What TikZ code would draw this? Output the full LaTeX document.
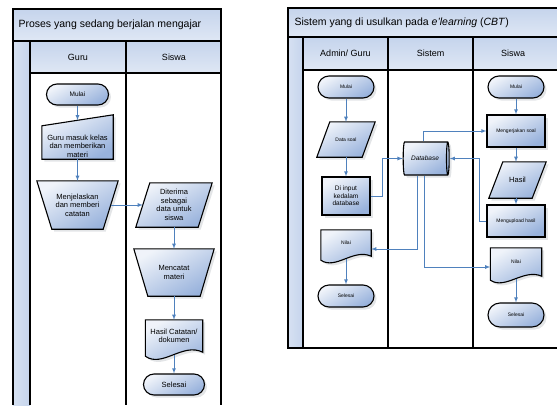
\documentclass[tikz,border=0pt]{standalone}
\usepackage{fontspec}
\setmainfont{Liberation Sans}
\usetikzlibrary{arrows, positioning, calc}
\usetikzlibrary{shapes.geometric, shapes.misc, shadows}

\definecolor{alurbiru}{RGB}{79,129,189}
\definecolor{isibiru}{RGB}{152,178,220}
\definecolor{pitabiru}{RGB}{197,212,236}

\pgfdeclarelayer{lajur}
\pgfdeclarelayer{bentuk}
\pgfsetlayers{lajur,bentuk,main}

\begin{document}
\begin{tikzpicture}[
        x=1pt, y=-1pt,
        garis/.style={line width=1.6pt},
        pita/.style={top color=pitabiru, bottom color=white!45!pitabiru},
        tepi/.style={left color=white!30!pitabiru, right color=pitabiru},
        isi/.style={draw, line width=1.1pt, top color=white!85!isibiru, bottom color=isibiru, shading angle=30,
            drop shadow={shadow xshift=2.5pt, shadow yshift=-2.5pt, fill=alurbiru!30!black!40, opacity=.3}},
        ujung/.style={rounded rectangle, isi, inner sep=1pt},
        proses/.style={rectangle, isi, inner sep=1pt, align=center},
        slot/.style={inner sep=0pt, align=center},
        alir/.style={draw=alurbiru, line width=.8pt, -latex},
        judul/.style={font=\fontsize{10.5}{12}\selectfont, anchor=west},
        kolom/.style={font=\fontsize{9}{11}\selectfont},
        besar/.style={font=\fontsize{7.5}{8.5}\selectfont},
        sedang/.style={font=\fontsize{6.5}{7.5}\selectfont},
        kecil/.style={font=\fontsize{5}{6}\selectfont}
    ]
    \useasboundingbox (0,0) rectangle (557,405);

    % lajur kiri
    \begin{pgfonlayer}{lajur}
        \fill[pita] (13,9) rectangle (221,41);
        \fill[pita] (30,41) rectangle (221,73);
        \fill[tepi] (13,41) rectangle (30,405);
        \draw[garis] (13,405) -- (13,9) -- (221,9) -- (221,405);
        \draw[garis] (13,41) -- (221,41);
        \draw[garis] (30,73) -- (221,73);
        \foreach \x in {30,126}
            \draw[garis] (\x,41) -- (\x,405);
    \end{pgfonlayer}

    \node[judul] (judulKiri) at (15,25) {Proses yang sedang berjalan mengajar};
    \node[kolom] (kolGuru) at (78,57) {Guru};
    \node[kolom] (kolSiswa) at (174,57) {Siswa};

    \node[ujung, sedang, minimum width=64pt, minimum height=21pt] (mulai1) at (77.5,94.5) {Mulai};
    \node[slot, besar, minimum width=71pt, minimum height=26pt] (masuk) at (77.5,146) {Guru masuk kelas\\dan memberikan\\materi};
    \node[slot, besar, minimum width=81pt, minimum height=48pt] (jelas) at (77.5,205) {Menjelaskan\\dan memberi\\catatan};
    \node[slot, besar, minimum width=48pt, minimum height=44pt] (terima) at (174,205) {Diterima\\sebagai\\data untuk\\siswa};
    \node[slot, besar, minimum width=80pt, minimum height=47pt] (catat) at (174,272.5) {Mencatat\\materi};
    \node[slot, besar, minimum width=57pt, minimum height=32pt] (hasilA) at (174,336) {Hasil Catatan/\\dokumen};
    \node[ujung, besar, minimum width=63pt, minimum height=21pt] (selesai1) at (174,384.5) {Selesai};

    % lajur kanan
    \begin{pgfonlayer}{lajur}
        \fill[pita] (288,8) rectangle (557,37);
        \fill[pita] (303,37) rectangle (557,70);
        \fill[tepi] (288,37) rectangle (303,348);
        \draw[garis] (557,8) -- (288,8) -- (288,348) -- (557,348);
        \draw[garis] (288,37) -- (557,37);
        \draw[garis] (303,70) -- (557,70);
        \foreach \x in {303,388,473}
            \draw[garis] (\x,37) -- (\x,348);
    \end{pgfonlayer}

    \node[judul] (judulKanan) at (291,22.5) {Sistem yang di usulkan pada \textit{e'learning} (\textit{CBT})};
    \node[kolom] (kolAdmin) at (345.5,53.5) {Admin/ Guru};
    \node[kolom] (kolSistem) at (430.5,53.5) {Sistem};
    \node[kolom] (kolSiswa2) at (513,53.5) {Siswa};

    \node[ujung, kecil, minimum width=58pt, minimum height=22pt] (mulaiG) at (346,87) {Mulai};
    \node[slot, kecil, minimum width=32pt, minimum height=35pt] (soal) at (346,139.5) {Data soal};
    \node[proses, sedang, minimum width=48pt, minimum height=38pt] (input) at (346,196) {Di input\\kedalam\\database};
    \node[slot, kecil, minimum width=50pt, minimum height=26pt] (nilaiG) at (346,243) {Nilai};
    \node[ujung, kecil, minimum width=58pt, minimum height=22pt] (selesaiG) at (346,296) {Selesai};

    \node[cylinder, isi, sedang, inner sep=1pt, minimum width=33pt, minimum height=46pt, shape aspect=.4] (db) at (425,158.5) {\textit{Database}};

    \node[ujung, kecil, minimum width=58pt, minimum height=22pt] (mulaiS) at (516,87) {Mulai};
    \node[proses, kecil, minimum width=58pt, minimum height=32pt] (kerja) at (516,131) {Mengerjakan soal};
    \node[slot, besar, minimum width=29pt, minimum height=36pt] (hasil) at (517.5,180) {Hasil};
    \node[proses, kecil, minimum width=58pt, minimum height=32pt] (upload) at (516,221) {Mengupload hasil};
    \node[slot, kecil, minimum width=51pt, minimum height=28pt] (nilaiS) at (516,262) {Nilai};
    \node[ujung, kecil, minimum width=58pt, minimum height=24pt] (selesaiS) at (516,315) {Selesai};

    % bentuk input manual, operasi manual, data, dokumen
    \begin{pgfonlayer}{bentuk}
        \path[isi] (masuk.south west) -- ([yshift=7pt]masuk.north west)
            -- ([yshift=18pt]masuk.north east) -- (masuk.south east) -- cycle;
        \path[isi] (jelas.north west) -- (jelas.north east)
            -- ([xshift=-15pt]jelas.south east) -- ([xshift=15pt]jelas.south west) -- cycle;
        \path[isi] (catat.north west) -- (catat.north east)
            -- ([xshift=-14pt]catat.south east) -- ([xshift=14pt]catat.south west) -- cycle;
        \path[isi] (terima.north west) -- ([xshift=14pt]terima.north east)
            -- (terima.south east) -- ([xshift=-14pt]terima.south west) -- cycle;
        \path[isi] (soal.north west) -- ([xshift=13pt]soal.north east)
            -- (soal.south east) -- ([xshift=-13pt]soal.south west) -- cycle;
        \path[isi] (hasil.north west) -- ([xshift=14pt]hasil.north east)
            -- (hasil.south east) -- ([xshift=-14pt]hasil.south west) -- cycle;
        \path[isi] (hasilA.south east) -- (hasilA.north east) -- (hasilA.north west)
            -- ([yshift=-4pt]hasilA.south west)
            .. controls ([xshift=17pt,yshift=-16pt]hasilA.south west) and ([xshift=-20pt,yshift=10pt]hasilA.south east) .. (hasilA.south east) -- cycle;
        \path[isi] (nilaiG.south east) -- (nilaiG.north east) -- (nilaiG.north west)
            -- ([yshift=-4pt]nilaiG.south west)
            .. controls ([xshift=15pt,yshift=-14pt]nilaiG.south west) and ([xshift=-18pt,yshift=8pt]nilaiG.south east) .. (nilaiG.south east) -- cycle;
        \path[isi] (nilaiS.south east) -- (nilaiS.north east) -- (nilaiS.north west)
            -- ([yshift=-4pt]nilaiS.south west)
            .. controls ([xshift=15pt,yshift=-14pt]nilaiS.south west) and ([xshift=-18pt,yshift=8pt]nilaiS.south east) .. (nilaiS.south east) -- cycle;
    \end{pgfonlayer}

    % alur kiri
    \draw[alir] (mulai1.south) -- ([yshift=12.5pt]masuk.north);
    \draw[alir] (masuk.south) -- (jelas.north);
    \draw[alir] ([xshift=-7.5pt]jelas.east) -- ([xshift=-7pt]terima.west);
    \draw[alir] (terima.south) -- (catat.north);
    \draw[alir] (catat.south) -- (hasilA.north);
    \draw[alir] ([yshift=-3pt]hasilA.south) -- (selesai1.north);

    % alur kanan
    \draw[alir] (mulaiG.south) -- (soal.north);
    \draw[alir] (soal.south) -- (input.north);
    \draw[alir] (input.east) -- ++(12,0) |- (db.west);
    \draw[alir] ([xshift=-2pt]db.north) |- (kerja.west);
    \draw[alir] (mulaiS.south) -- (kerja.north);
    \draw[alir] (kerja.south) -- (kerja.south |- hasil.north);
    \draw[alir] (upload.north |- hasil.south) -- (upload.north);
    \draw[alir] (upload.west) -- ++(-7,0) |- (db.east);
    \draw[alir] ([xshift=-8pt]db.south) |- ([yshift=-6pt]nilaiG.east);
    \draw[alir] ([xshift=-1pt]db.south) |- ([yshift=-5pt]nilaiS.west);
    \draw[alir] ([yshift=-3pt]nilaiG.south) -- (selesaiG.north);
    \draw[alir] ([yshift=-3pt]nilaiS.south) -- (selesaiS.north);
\end{tikzpicture}
\end{document}
